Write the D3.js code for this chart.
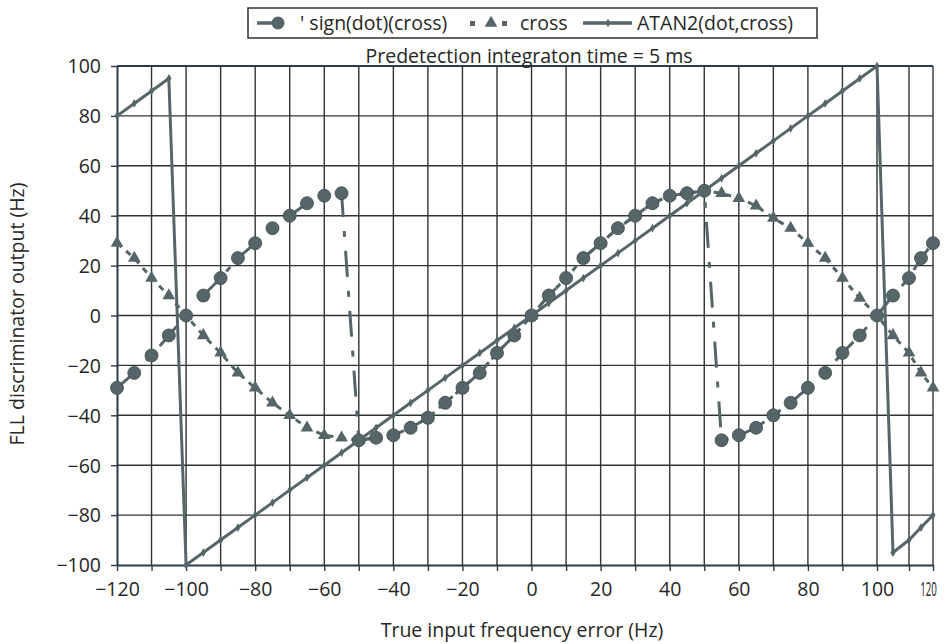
<!DOCTYPE html>
<html>
<head>
<meta charset="utf-8">
<script src="https://cdn.jsdelivr.net/npm/d3@7/dist/d3.min.js"></script>
<style>
    body { margin: 0; background: #fff; }
    svg text { font-family: "Open Sans", "Noto Sans", sans-serif; fill: #262626; }
</style>
</head>
<body>
<svg id="chart" width="945" height="644"></svg>
<script>

// frequency error (Hz), one point every 5 Hz
let freq = [-120, -115, -110, -105, -100, -95, -90, -85, -80, -75, -70, -65, -60, -55, -50, -45, -40, -35, -30, -25, -20, -15, -10, -5,
    0, 5, 10, 15, 20, 25, 30, 35, 40, 45, 50, 55, 60, 65, 70, 75, 80, 85, 90, 95, 100, 105, 110, 115, 120];

// sign(dot)(cross) discriminator
let signDotCross = [-29, -23, -16, -8, 0, 8, 15, 23, 29, 35, 40, 45, 48, 49, -50, -49, -48, -45, -41, -35, -29, -23, -15, -8,
    0, 8, 15, 23, 29, 35, 40, 45, 48, 49, 50, -50, -48, -45, -40, -35, -29, -23, -15, -8, 0, 8, 15, 23, 29];

// cross discriminator
let crossOut = [29, 23, 15, 8, 0, -8, -15, -23, -29, -35, -40, -45, -48, -49, -50, -49, -48, -45, -41, -35, -29, -23, -15, -8,
    0, 8, 15, 23, 29, 35, 40, 45, 48, 49, 50, 49, 47, 44, 39, 35, 29, 23, 15, 7, 0, -8, -15, -23, -29];

// ATAN2(dot,cross) discriminator
let atan2Out = [80, 85, 90, 95, -100, -95, -90, -85, -80, -75, -70, -65, -60, -55, -50, -45, -40, -35, -30, -25, -20, -15, -10, -5,
    0, 5, 10, 15, 20, 25, 30, 35, 40, 45, 50, 55, 60, 65, 70, 75, 80, 85, 90, 95, 100, -95, -90, -85, -80];

let xTicks = [-120, -100, -80, -60, -40, -20, 0, 20, 40, 60, 80, 100, 120];
let xGrid = [-110, -100, -90, -80, -70, -60, -50, -40, -30, -20, -10, 0, 10, 20, 30, 40, 50, 60, 70, 80, 90, 100, 110, 120];
let yTicks = [-100, -80, -60, -40, -20, 0, 20, 40, 60, 80, 100];

let seriesNames = ["' sign(dot)(cross)", "cross", "ATAN2(dot,cross)"];
let chartTitle = "Predetection integraton time = 5 ms";
let xTitle = "True input frequency error (Hz)";
let yTitle = "FLL discriminator output (Hz)";

let ink = "#566668";
let gridColor = "#2e3436";
let axisColor = "#2a3c4c";

let plotL = 117, plotR = 933, plotT = 66, plotB = 565;

let svg = d3.select("#chart");

// the scanned page squeezes the last two columns, so the scale has a knee at 100 and 110
let xScale = d3.scaleLinear()
    .domain([-120, 100, 110, 120])
    .range([plotL, 877, 909, plotR]);

let yScale = d3.scaleLinear()
    .domain([-100, 100])
    .range([plotB, plotT]);

// grid
svg.append("g")
    .selectAll("line")
    .data(xGrid)
    .enter()
    .append("line")
    .attr("x1", d => xScale(d))
    .attr("x2", d => xScale(d))
    .attr("y1", plotT)
    .attr("y2", plotB)
    .attr("stroke", gridColor)
    .attr("stroke-width", 1.4);

svg.append("g")
    .selectAll("line")
    .data(yTicks.slice(1))
    .enter()
    .append("line")
    .attr("x1", plotL)
    .attr("x2", plotR)
    .attr("y1", d => yScale(d))
    .attr("y2", d => yScale(d))
    .attr("stroke", gridColor)
    .attr("stroke-width", 1.4);

// axes
let xAxis = d3.axisBottom(xScale)
    .tickValues(xGrid.concat([-120]))
    .tickSize(6)
    .tickSizeOuter(0)
    .tickFormat(d => xTicks.indexOf(d) >= 0 ? d3.format("")(d) : "");

let yAxis = d3.axisLeft(yScale)
    .tickValues(yTicks)
    .tickSize(6)
    .tickSizeOuter(0)
    .tickFormat(d3.format(""));

let gx = svg.append("g")
    .attr("transform", "translate(0," + plotB + ")")
    .call(xAxis);

let gy = svg.append("g")
    .attr("transform", "translate(" + plotL + ",0)")
    .call(yAxis);

[gx, gy].forEach(g => {
    g.selectAll("path").attr("stroke", axisColor).attr("stroke-width", 2);
    g.selectAll("line").attr("stroke", axisColor).attr("stroke-width", 1.4);
    g.selectAll("text").attr("font-size", 19.5).attr("fill", "#262626");
});
gx.selectAll("text").attr("dy", "1.15em");
gy.selectAll("text").attr("x", -16).attr("dy", "0.35em");

// last label is squeezed against the page edge
gx.selectAll("text")
    .filter(d => d === 120)
    .attr("transform", "translate(-5,0) scale(0.5,1)");

// top border
svg.append("line")
    .attr("x1", plotL).attr("x2", plotR)
    .attr("y1", plotT).attr("y2", plotT)
    .attr("stroke", axisColor)
    .attr("stroke-width", 2);

// series
let pts = freq.map((f, i) => ({ f: f, s: signDotCross[i], c: crossOut[i], a: atan2Out[i] }));

let line = key => d3.line()
    .x(d => xScale(d.f))
    .y(d => yScale(d[key]));

let triangle = d3.symbol().type(d3.symbolTriangle).size(70);
let diamond = d3.symbol().type(d3.symbolDiamond).size(22);

// cross
svg.append("path")
    .datum(pts)
    .attr("d", line("c"))
    .attr("fill", "none")
    .attr("stroke", ink)
    .attr("stroke-width", 3)
    .attr("stroke-dasharray", "6,6");

svg.append("g")
    .selectAll("path")
    .data(pts)
    .enter()
    .append("path")
    .attr("d", triangle)
    .attr("transform", d => "translate(" + xScale(d.f) + "," + yScale(d.c) + ")")
    .attr("fill", ink);

// sign(dot)(cross)
svg.append("path")
    .datum(pts)
    .attr("d", line("s"))
    .attr("fill", "none")
    .attr("stroke", ink)
    .attr("stroke-width", 3)
    .attr("stroke-dasharray", "26,14,6,14");

svg.append("g")
    .selectAll("circle")
    .data(pts)
    .enter()
    .append("circle")
    .attr("cx", d => xScale(d.f))
    .attr("cy", d => yScale(d.s))
    .attr("r", 6.5)
    .attr("fill", ink)
    .attr("stroke", "#3c4a4c")
    .attr("stroke-width", 0.8);

// ATAN2(dot,cross)
svg.append("path")
    .datum(pts)
    .attr("d", line("a"))
    .attr("fill", "none")
    .attr("stroke", ink)
    .attr("stroke-width", 3);

svg.append("g")
    .selectAll("path")
    .data(pts)
    .enter()
    .append("path")
    .attr("d", diamond)
    .attr("transform", d => "translate(" + xScale(d.f) + "," + yScale(d.a) + ")")
    .attr("fill", ink);

// titles
svg.append("text")
    .attr("x", 529)
    .attr("y", 63)
    .attr("text-anchor", "middle")
    .attr("font-size", 19.5)
    .text(chartTitle);

svg.append("text")
    .attr("x", 522)
    .attr("y", 637)
    .attr("text-anchor", "middle")
    .attr("font-size", 19.5)
    .text(xTitle);

svg.append("text")
    .attr("transform", "translate(24,314) rotate(-90)")
    .attr("text-anchor", "middle")
    .attr("font-size", 19.5)
    .text(yTitle);

// legend
let legend = svg.append("g");

legend.append("rect")
    .attr("x", 248)
    .attr("y", 8)
    .attr("width", 569)
    .attr("height", 30)
    .attr("fill", "#fff")
    .attr("stroke", "#303030")
    .attr("stroke-width", 1.5);

let ly = 23;
legend.append("line")
    .attr("x1", 257).attr("x2", 280).attr("y1", ly).attr("y2", ly)
    .attr("stroke", ink).attr("stroke-width", 3.5);
legend.append("circle")
    .attr("cx", 278).attr("cy", ly).attr("r", 6.5).attr("fill", ink);

legend.append("rect")
    .attr("x", 470).attr("y", ly - 2).attr("width", 5).attr("height", 5).attr("fill", ink);
legend.append("path")
    .attr("d", triangle)
    .attr("transform", "translate(491," + ly + ")")
    .attr("fill", ink);
legend.append("rect")
    .attr("x", 502).attr("y", ly - 2).attr("width", 5).attr("height", 5).attr("fill", ink);

legend.append("line")
    .attr("x1", 583).attr("x2", 632).attr("y1", ly).attr("y2", ly)
    .attr("stroke", ink).attr("stroke-width", 3.5);
legend.append("path")
    .attr("d", diamond)
    .attr("transform", "translate(608," + ly + ")")
    .attr("fill", ink);

let lx = [300, 520, 637];
seriesNames.forEach((name, i) => {
    legend.append("text")
        .attr("x", lx[i])
        .attr("y", ly + 7)
        .attr("font-size", 19.5)
        .text(name);
});

</script>
</body>
</html>
